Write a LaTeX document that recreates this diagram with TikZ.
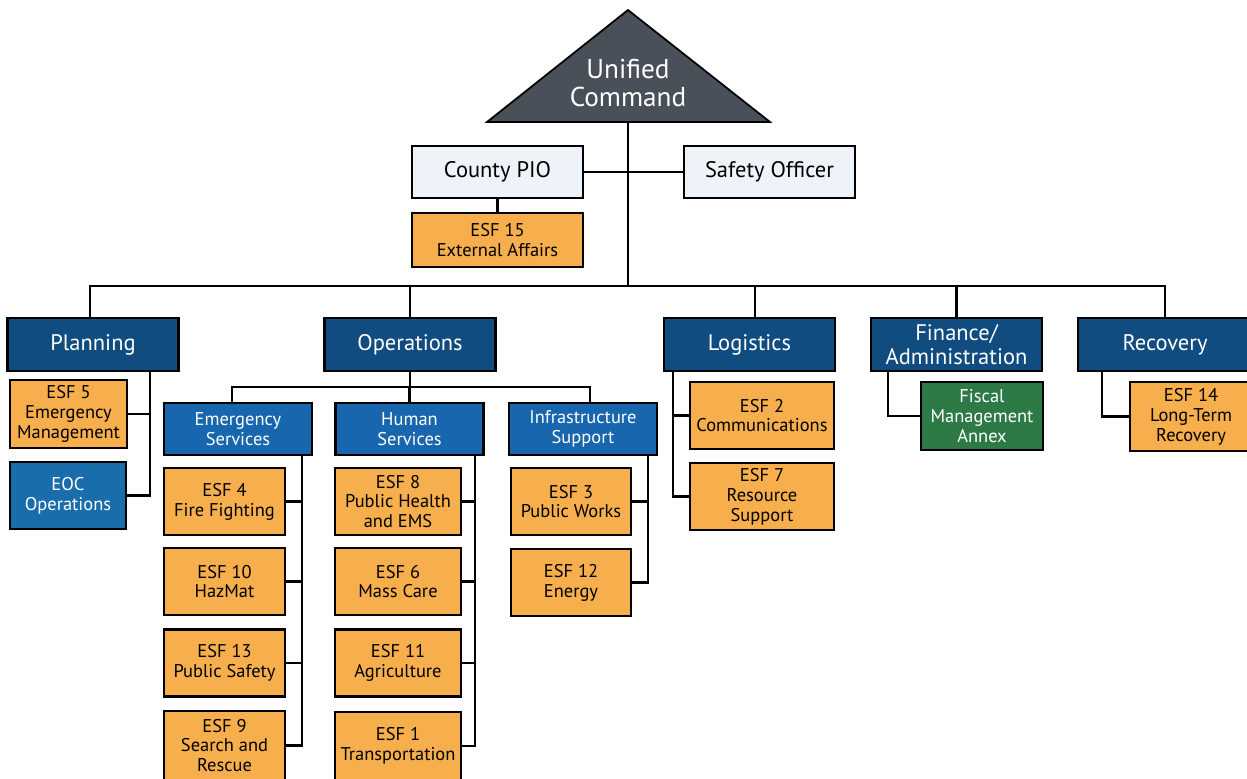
\documentclass[tikz,border=0pt]{standalone}
\usepackage{fontspec}
\setmainfont{PT Sans}
\usetikzlibrary{calc}

\definecolor{ucgrey}{HTML}{4A5059}
\definecolor{piofill}{HTML}{EEF3FA}
\definecolor{secblue}{HTML}{114C80}
\definecolor{grpblue}{HTML}{1766AE}
\definecolor{eocblue}{HTML}{1A6DAB}
\definecolor{esforange}{HTML}{F7AE4C}
\definecolor{fiscgreen}{HTML}{2D7A47}

\begin{document}
\begin{tikzpicture}[x=0.02cm,y=-0.02cm,line width=1.5pt]
\tikzstyle{every node}=[font=\fontsize{10.5}{11.3}\selectfont, align=center, inner sep=0pt, line width=1.5pt]
\tikzstyle{staffbox}=[draw, fill=piofill, minimum width=3.42cm, minimum height=1.04cm, font=\fontsize{12.8}{13.6}\selectfont]
\tikzstyle{secbox}=[draw, fill=secblue, text=white, minimum width=3.42cm, minimum height=1.06cm, font=\fontsize{12.8}{13.6}\selectfont]
\tikzstyle{grpbox}=[draw, fill=grpblue, text=white, minimum width=2.96cm, minimum height=1.04cm]
\tikzstyle{esfbox}=[draw, fill=esforange, minimum height=1.34cm]
\useasboundingbox (0,0) rectangle (1247,778);

% command
\filldraw[fill=ucgrey, line width=1pt] (487,122) -- (628,10) -- (770,122) -- cycle;
\node[text=white, font=\fontsize{15.5}{16.4}\selectfont] (uc) at (628,83) {Unified\\Command};
\coordinate (ucbase) at (628,122);

% staff
\node[staffbox] (pio) at (497.5,172) {County PIO};
\node[staffbox] (safety) at (769.5,172) {Safety Officer};
\node[esfbox, minimum width=3.42cm, minimum height=1.08cm] (esf15) at (497.5,240) {ESF 15\\External Affairs};

% sections
\node[secbox] (plan) at (93,344.5) {Planning};
\node[secbox] (ops) at (410,344.5) {Operations};
\node[secbox] (logi) at (749.5,344.5) {Logistics};
\node[secbox] (fin) at (956.5,344.5) {Finance/\\Administration};
\node[secbox, minimum width=3.48cm] (rec) at (1165,344.5) {Recovery};

% planning
\node[esfbox, minimum width=2.34cm, minimum height=1.36cm] (esf5) at (68.5,414) {ESF 5\\Emergency\\Management};
\node[draw, fill=eocblue, text=white, minimum width=2.32cm, minimum height=1.34cm] (eoc) at (68,495.5) {EOC\\Operations};

% operations
\node[grpbox] (emg) at (238,429) {Emergency\\Services};
\node[grpbox] (hum) at (409.5,429) {Human\\Services};
\node[grpbox] (infra) at (583,429) {Infrastructure\\Support};

\node[esfbox, minimum width=2.42cm] (esf4) at (224.5,501.5) {ESF 4\\Fire Fighting};
\node[esfbox, minimum width=2.42cm] (esf10) at (224.5,581.5) {ESF 10\\HazMat};
\node[esfbox, minimum width=2.42cm] (esf13) at (224.5,663) {ESF 13\\Public Safety};
\node[esfbox, minimum width=2.42cm, minimum height=1.38cm] (esf9) at (224.5,745.5) {ESF 9\\Search and\\Rescue};

\node[esfbox, minimum width=2.52cm] (esf8) at (398,501.5) {ESF 8\\Public Health\\and EMS};
\node[esfbox, minimum width=2.52cm] (esf6) at (398,581.5) {ESF 6\\Mass Care};
\node[esfbox, minimum width=2.52cm] (esf11) at (398,663) {ESF 11\\Agriculture};
\node[esfbox, minimum width=2.52cm, minimum height=1.36cm] (esf1) at (398,746) {ESF 1\\Transportation};

\node[esfbox, minimum width=2.4cm] (esf3) at (571,501.5) {ESF 3\\Public Works};
\node[esfbox, minimum width=2.4cm] (esf12) at (571,582.5) {ESF 12\\Energy};

% logistics, finance, recovery
\node[esfbox, minimum width=2.88cm] (esf2) at (762,415.5) {ESF 2\\Communications};
\node[esfbox, minimum width=2.88cm] (esf7) at (762,496.5) {ESF 7\\Resource\\Support};
\node[draw, fill=fiscgreen, text=white, minimum width=2.44cm, minimum height=1.36cm] (fiscal) at (982,416) {Fiscal\\Management\\Annex};
\node[esfbox, minimum width=2.44cm, minimum height=1.38cm] (esf14) at (1191,416.5) {ESF 14\\Long-Term\\Recovery};

% connectors
\coordinate (bus) at (628,286);
\draw (ucbase) -- (bus);
\draw (pio.east) -- (safety.west);
\draw (pio.south) -- (esf15.north);
\draw ([xshift=-0.06cm]plan.north) |- (bus) -| (rec.north);
\draw (ops.north) -- (ops.north |- bus);
\draw ([xshift=0.11cm]logi.north) -- ([xshift=0.11cm]logi.north |- bus);
\draw (fin.north) -- (fin.north |- bus);

\coordinate (planspine) at (150,371);
\draw (planspine) |- (eoc.east);
\draw (esf5.east) -- (esf5.east -| planspine);

\coordinate (opsbus) at (410,387);
\draw (ops.south) -- (opsbus);
\draw ([xshift=-0.12cm]emg.north) |- (opsbus) -| ([xshift=0.14cm]infra.north);
\draw (hum.north) -- (hum.north |- opsbus);

\coordinate (emgspine) at (302,455);
\draw (emgspine) |- (esf9.east);
\draw (esf4.east) -- (esf4.east -| emgspine);
\draw (esf10.east) -- (esf10.east -| emgspine);
\draw (esf13.east) -- (esf13.east -| emgspine);

\coordinate (humspine) at (475,455);
\draw (humspine) |- (esf1.east);
\draw (esf8.east) -- (esf8.east -| humspine);
\draw (esf6.east) -- (esf6.east -| humspine);
\draw (esf11.east) -- (esf11.east -| humspine);

\coordinate (infspine) at (648,455);
\draw (infspine) |- (esf12.east);
\draw (esf3.east) -- (esf3.east -| infspine);

\coordinate (logspine) at (673,371);
\draw (logspine) |- (esf7.west);
\draw (esf2.west) -- (esf2.west -| logspine);

\coordinate (finspine) at (888,371);
\draw (finspine) |- (fiscal.west);
\coordinate (recspine) at (1102,371);
\draw (recspine) |- (esf14.west);

\end{tikzpicture}
\end{document}
